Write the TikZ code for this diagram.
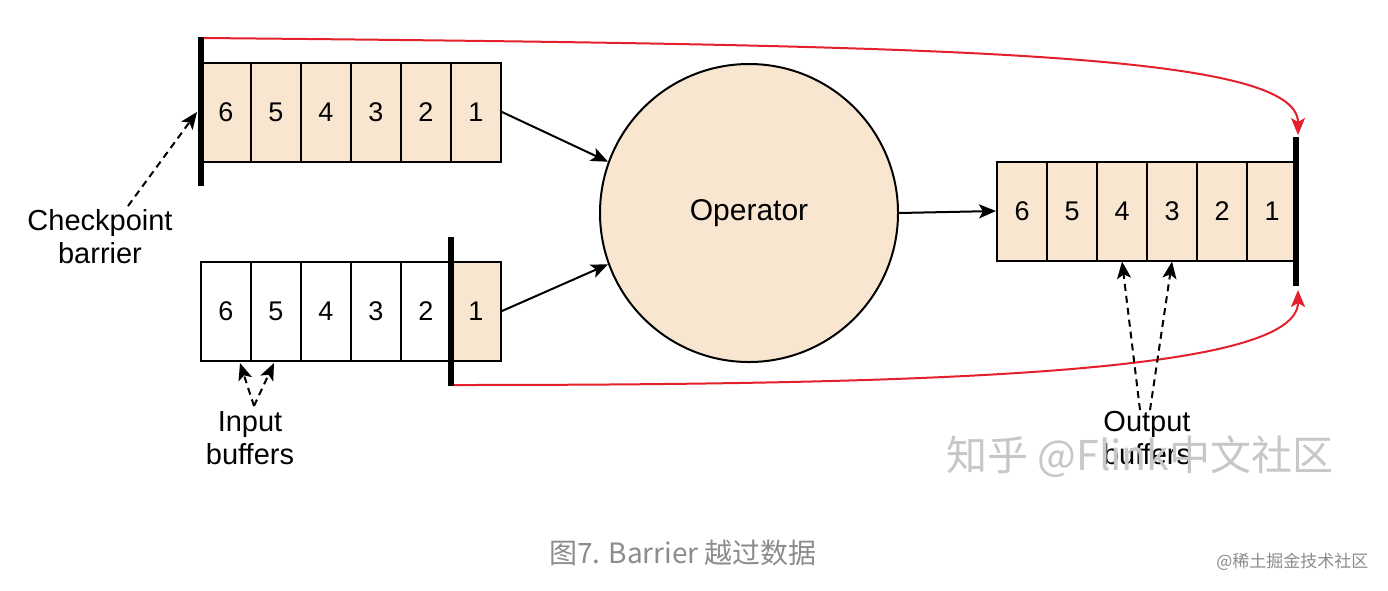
\documentclass[tikz,border=0pt]{standalone}
\usepackage{fontspec}
\setmainfont{Liberation Sans}
\newfontfamily\cjk{Noto Sans CJK SC}
\usetikzlibrary{arrows.meta}
\definecolor{peach}{HTML}{F9E6D1}
\definecolor{redline}{HTML}{E3202B}
\definecolor{capgray}{HTML}{8C8C8C}
\tikzset{
  cell/.style={draw=black, line width=2pt, minimum width=50pt, minimum height=99pt, inner sep=0pt, font=\fontsize{27}{27}\selectfont},
  barrier/.style={line width=6pt, line cap=butt},
  flow/.style={line width=2pt, -{Stealth[length=17pt,width=14pt,inset=4pt]}},
  hint/.style={line width=2pt, dashed, dash pattern=on 7pt off 5pt, -{Stealth[length=17pt,width=14pt,inset=4pt]}},
  redarrow/.style={line width=2pt, draw=redline, -{Stealth[length=17pt,width=14pt,inset=4pt,color=redline]}},
  lbl/.style={align=center, font=\fontsize{29}{33}\selectfont, inner sep=1pt}
}
\begin{document}
\begin{tikzpicture}[x=1pt,y=-1pt]
\useasboundingbox (0,0) rectangle (1388,590);
\fill[white] (0,0) rectangle (1388,590);
% top input buffer
\foreach \i/\n in {0/6,1/5,2/4,3/3,4/2,5/1}{
  \node[cell, fill=peach] (t\n) at ({226+50*\i},112) {\n};
}
% bottom input buffer
\foreach \i/\n in {0/6,1/5,2/4,3/3,4/2}{
  \node[cell, fill=white] (b\n) at ({226+50*\i},311) {\n};
}
\node[cell, fill=peach] (b1) at (476,311) {1};
% output buffer
\foreach \i/\n in {0/6,1/5,2/4,3/3,4/2,5/1}{
  \node[cell, fill=peach] (o\n) at ({1022+50*\i},211) {\n};
}
% operator
\node[circle, draw=black, line width=2pt, fill=peach, minimum size=298pt, inner sep=0pt, font=\fontsize{30}{30}\selectfont] (op) at (749,213) {Operator};
% barriers
\coordinate (tb1) at (201,37); \coordinate (tb2) at (201,186);
\coordinate (bb1) at (451,237); \coordinate (bb2) at (451,386);
\coordinate (ob1) at (1296,137); \coordinate (ob2) at (1296,286);
\draw[barrier] (tb1) -- (tb2);
\draw[barrier] (bb1) -- (bb2);
\draw[barrier] (ob1) -- (ob2);
% flow arrows
\draw[flow] (t1.east) -- (op.160);
\draw[flow] (b1.east) -- (op.200);
\draw[flow] (op.east) -- (o6.west);
% red arrows
\coordinate (rt0) at (204,38);
\coordinate (rt1) at (1298,135);
\draw[redarrow] (rt0) .. controls (950,45) and (1298,52) .. (rt1);
\coordinate (rb0) at (454,385);
\coordinate (rb1) at (1298,290);
\draw[redarrow] (rb0) .. controls (950,385) and (1298,372) .. (rb1);
% labels
\node[lbl] (cp) at (100,237) {Checkpoint\\barrier};
\node[lbl] (ib) at (250,438) {Input\\buffers};
\node[lbl] (ob) at (1147,438) {Output\\buffers};
\coordinate (cpa) at (128,206);
\coordinate (cpt) at (197,112);
\draw[hint] (cpa) -- (cpt);
\coordinate (iba) at (254,406);
\draw[hint] (iba) -- (240,363);
\draw[hint] (iba) -- (274,363);
\coordinate (oba1) at (1140,410);
\coordinate (oba2) at (1150,410);
\draw[hint] (oba1) -- (o4.south);
\draw[hint] (oba2) -- (o3.south);
% watermark and captions
\node[font=\cjk\fontsize{41}{41}\selectfont, text=black!22] (wm) at (1140,457) {知乎 @Flink中文社区};
\node[font=\cjk\fontsize{28}{28}\selectfont, text=capgray] (cap) at (683,553) {图7. Barrier 越过数据};
\node[font=\cjk\fontsize{17}{17}\selectfont, text=capgray, anchor=east] (jj) at (1372,562) {@稀土掘金技术社区};
\end{tikzpicture}
\end{document}
